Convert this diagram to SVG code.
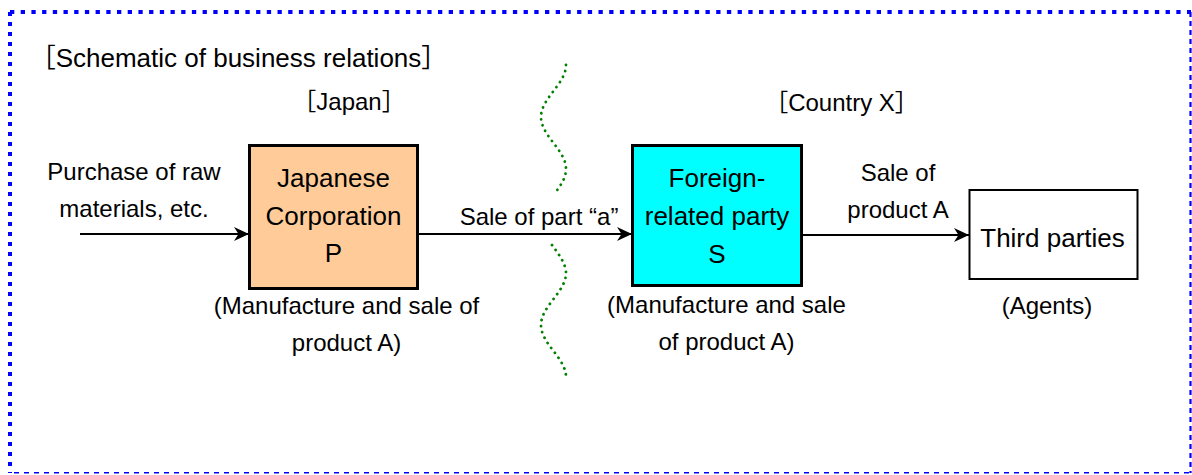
<svg xmlns="http://www.w3.org/2000/svg" width="1192" height="475" viewBox="0 0 1192 475">
<defs>
<style>
text{font-family:"Liberation Sans","Noto Sans CJK JP",Arial,sans-serif;fill:#000;}
.lbl{font-size:24px;text-anchor:middle;}
.node{font-size:26px;text-anchor:middle;}
.title{font-size:26px;text-anchor:middle;}
.edge{stroke:#000;stroke-width:2;fill:none;marker-end:url(#arr);}
.wave{stroke:#008000;stroke-width:2.8;fill:none;stroke-dasharray:0.1 6;stroke-linecap:round;}
</style>
<marker id="arr" markerUnits="userSpaceOnUse" markerWidth="16" markerHeight="16" viewBox="0 0 16 16" refX="15" refY="8" orient="auto">
<path d="M0,1 L15,8 L0,15 L4.5,8 Z" fill="#000"/>
</marker>
</defs>
<rect width="1192" height="475" fill="#fff"/>
<g id="frame">
<line x1="10" y1="12" x2="1191" y2="12" stroke="#0000ff" stroke-width="4" stroke-dasharray="4.3 6.4"/>
<line x1="10" y1="12" x2="10" y2="473" stroke="#0000ff" stroke-width="4" stroke-dasharray="4 6"/>
<line x1="1190.5" y1="12" x2="1190.5" y2="473" stroke="#0000ff" stroke-width="2.2" stroke-dasharray="5 4"/>
<line x1="14" y1="472.7" x2="1191" y2="472.7" stroke="#0000ff" stroke-width="1.6" stroke-dasharray="5 5"/>
</g>
<g id="labels">
<text class="title" x="238.5" y="67">［Schematic of business relations］</text>
<text class="lbl" x="349" y="110">［Japan］</text>
<text class="lbl" x="841.5" y="110.5">［Country X］</text>
</g>
<g id="border-waves">
<path class="wave" d="M566,65 C566,84 541,98 541,117 C541,136 566,150 566,169 C566,177 561.7,184 555.8,192"/>
<path class="wave" d="M552,245 C558.7,254 566,264 566,273 C566,292 541,306 541,325 C541,344 566,358 566,377"/>
</g>
<g id="connectors">
<line class="edge" x1="80" y1="234" x2="249" y2="234"/>
<line class="edge" x1="418" y1="234" x2="632" y2="234"/>
<line class="edge" x1="802" y1="235" x2="969" y2="235"/>
<text class="lbl" x="134" y="180">Purchase of raw</text>
<text class="lbl" x="134" y="217">materials, etc.</text>
<text class="lbl" x="539" y="225">Sale of part “a”</text>
<text class="lbl" x="898" y="181">Sale of</text>
<text class="lbl" x="898" y="218">product A</text>
</g>
<g id="node-P">
<rect x="249.5" y="145.5" width="168" height="143" fill="#ffcc99" stroke="#000" stroke-width="3"/>
<text class="node" x="333.5" y="187">Japanese</text>
<text class="node" x="333.5" y="225">Corporation</text>
<text class="node" x="333.5" y="262">P</text>
<text class="lbl" x="346.5" y="314">(Manufacture and sale of</text>
<text class="lbl" x="346.5" y="351">product A)</text>
</g>
<g id="node-S">
<rect x="632.5" y="145.5" width="169" height="140" fill="#00ffff" stroke="#000" stroke-width="3"/>
<text class="node" x="717" y="187">Foreign-</text>
<text class="node" x="717" y="225">related party</text>
<text class="node" x="717" y="263">S</text>
<text class="lbl" x="726.5" y="313">(Manufacture and sale</text>
<text class="lbl" x="726.5" y="350">of product A)</text>
</g>
<g id="node-T">
<rect x="969.5" y="190" width="168" height="89" fill="#fff" stroke="#000" stroke-width="2"/>
<text class="node" x="1052.5" y="246.5">Third parties</text>
<text class="lbl" x="1047" y="314">(Agents)</text>
</g>
</svg>
